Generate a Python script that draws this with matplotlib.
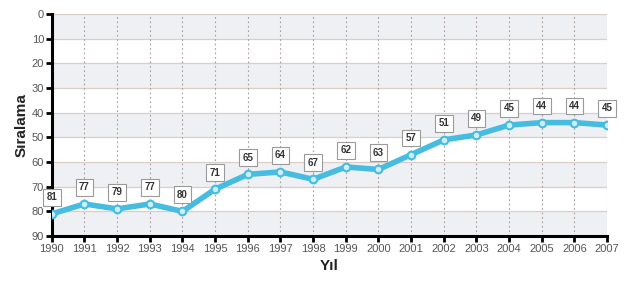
import matplotlib.pyplot as plt
import numpy as np

plt.rcParams["font.family"] = ["Liberation Sans", "DejaVu Sans"]

years = list(range(1990, 2008))
ranks = [81, 77, 79, 77, 80, 71, 65, 64, 67, 62, 63, 57, 51, 49, 45, 44, 44, 45]

fig = plt.figure(figsize=(6.24, 2.82), dpi=100)
ax = fig.add_axes([0.083, 0.163, 0.89, 0.787])

# alternating bands
for lo in range(0, 90, 20):
    ax.axhspan(lo, lo + 10, color="#eef0f3", zorder=0, lw=0)
for y in range(0, 90, 10):
    ax.axhline(y, color="#d9cfc8", lw=0.9, zorder=1)
for x in years[1:]:
    ax.axvline(x, color="#a89c98", lw=0.8, ls=(0, (1.5, 2.5)), zorder=1)

ax.plot(years, ranks, color="#45bce0", lw=4, zorder=3, solid_capstyle="round")
ax.plot(years, ranks, "o", ms=5.5, mfc="#cdeef8", mec="#45bce0", mew=1.5, zorder=4)

for x, v in zip(years, ranks):
    ax.annotate(str(v), (x, v), xytext=(0, 12), textcoords="offset points",
                ha="center", va="center", fontsize=7, fontweight="bold", color="#333333",
                bbox=dict(boxstyle="square,pad=0.35", fc="white", ec="#9a9a9a", lw=0.8),
                zorder=5)

ax.set_xlim(1990, 2007)
ax.set_ylim(90, 0)
ax.set_yticks(range(0, 91, 10))
ax.set_xticks(years)

ax.spines["top"].set_visible(False)
ax.spines["right"].set_visible(False)
ax.spines["left"].set_linewidth(2.2)
ax.spines["bottom"].set_linewidth(2.2)
ax.tick_params(axis="both", direction="out", length=4, width=2, labelsize=8,
               labelcolor="#555555", pad=1.5)

ax.set_xlabel("Yıl", fontsize=11, fontweight="bold", color="#222222", labelpad=4)
ax.set_ylabel("Sıralama", fontsize=11, fontweight="bold", color="#222222", labelpad=2)

fig.savefig("out.png", dpi=100)
